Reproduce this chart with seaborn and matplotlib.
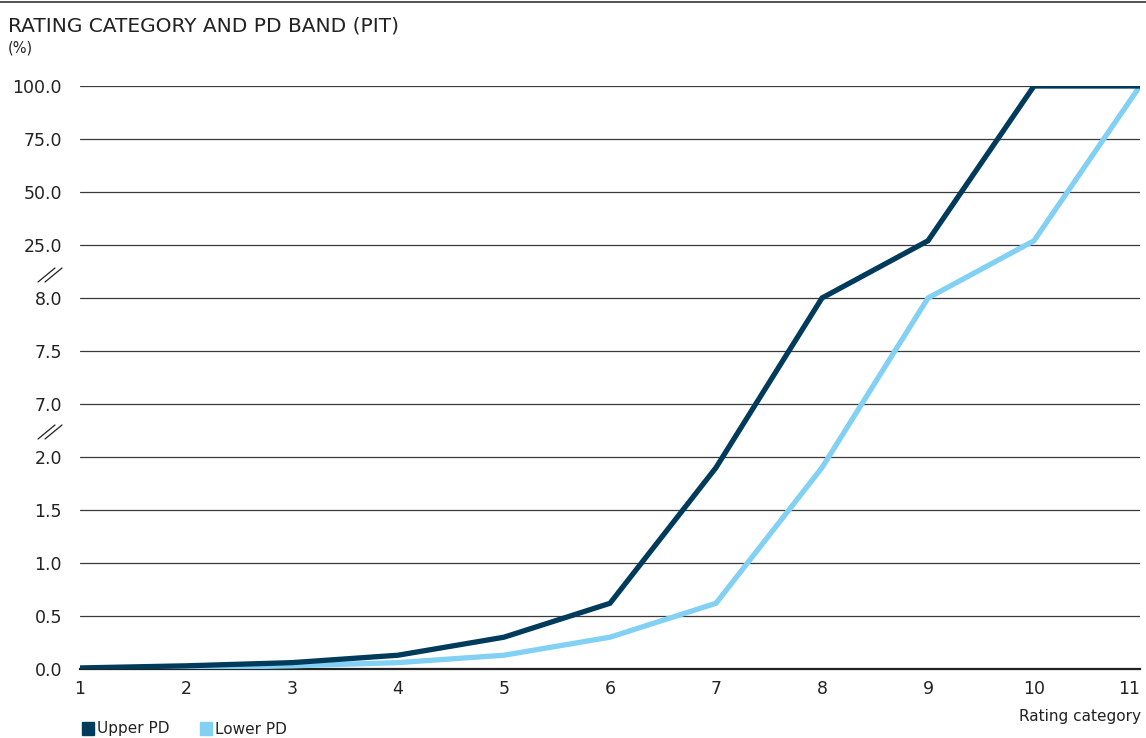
import numpy as np
import pandas as pd
import matplotlib
matplotlib.use("Agg")
import matplotlib.pyplot as plt
from matplotlib.lines import Line2D
from matplotlib.patches import Rectangle
import seaborn as sns

categories = [1, 2, 3, 4, 5, 6, 7, 8, 9, 10, 11]
upper_pd = [0.01, 0.03, 0.06, 0.13, 0.30, 0.62, 1.9, 8.0, 27.0, 100.0, 100.0]
lower_pd = [0.0, 0.01, 0.03, 0.06, 0.13, 0.30, 0.62, 1.9, 8.0, 27.0, 100.0]
y_ticks = [0.0, 0.5, 1.0, 1.5, 2.0, 7.0, 7.5, 8.0, 25.0, 50.0, 75.0, 100.0]

# broken axis: piecewise linear mapping value -> position
seg_val = [0.0, 2.0, 7.0, 8.0, 25.0, 100.0]
seg_pos = [0.0, 4.0, 5.0, 7.0, 8.0, 11.0]


def fwd(v):
    return np.interp(v, seg_val, seg_pos)


def inv(p):
    return np.interp(p, seg_pos, seg_val)


DARK = "#003b5c"
LIGHT = "#82d0f4"

sns.set_style("white")
plt.rcParams["font.family"] = ["DejaVu Sans"]

W, H = 1146, 738
fig = plt.figure(figsize=(W / 100, H / 100), dpi=100)
ax = fig.add_axes([80 / W, 1 - 669 / H, (1140 - 80) / W, (669 - 86) / H])
ax.set_yscale("function", functions=(fwd, inv))

df = pd.DataFrame({"cat": categories * 2,
                   "pd": upper_pd + lower_pd,
                   "series": ["Upper PD"] * 11 + ["Lower PD"] * 11})

for t in y_ticks[1:]:
    ax.axhline(t, color="#3a3a3a", lw=0.9, zorder=1)

sns.lineplot(data=df, x="cat", y="pd", hue="series",
             palette={"Upper PD": DARK, "Lower PD": LIGHT},
             hue_order=["Lower PD", "Upper PD"],
             linewidth=3.8, legend=False, ax=ax, zorder=3,
             solid_joinstyle="miter", solid_capstyle="round")

ax.set_xlim(1, 11)
ax.set_ylim(0, 100)
ax.set_yticks(y_ticks)
ax.set_yticklabels([f"{t:.1f}" for t in y_ticks])
ax.set_xticks(categories)
ax.tick_params(axis="both", length=0, labelsize=12.5, colors="#222222")
ax.tick_params(axis="y", pad=13)
ax.tick_params(axis="x", pad=8)
xlabels = ax.get_xticklabels()
xlabels[-1].set_horizontalalignment("right")
ax.set_xlabel("")
ax.set_ylabel("")
for s in ["left", "right", "top"]:
    ax.spines[s].set_visible(False)
ax.spines["bottom"].set_color("#222222")
ax.spines["bottom"].set_linewidth(1.6)
ax.spines["bottom"].set_zorder(2)
ax.grid(False)

# top rule
fig.add_artist(Line2D([0, 1], [1 - 2 / H, 1 - 2 / H], color="#333333", lw=1.2))

# title
fig.text(8 / W, 1 - 26 / H, "RATING CATEGORY AND PD BAND (PIT)", fontsize=14.5,
         color="#222222", va="center", ha="left")
fig.text(8 / W, 1 - 48 / H, "(%)", fontsize=10.5, color="#222222", va="center", ha="left")

# axis break marks
for yb in [275, 432]:
    for dx in [0, 7]:
        fig.add_artist(Line2D([(38 + dx) / W, (55 + dx) / W],
                              [1 - (yb + 7) / H, 1 - (yb - 7) / H],
                              color="#222222", lw=0.9))

fig.text(1141 / W, 1 - 716 / H, "Rating category", fontsize=11, color="#222222",
         ha="right", va="center")

# legend
for xs, label, c in [(82, "Upper PD", DARK), (200, "Lower PD", LIGHT)]:
    fig.add_artist(Rectangle((xs / W, 1 - 735 / H), 12 / W, 13 / H, color=c,
                             transform=fig.transFigure))
    fig.text((xs + 15) / W, 1 - 729 / H, label, fontsize=11, color="#222222",
             ha="left", va="center")

fig.savefig("out.png", dpi=100)
